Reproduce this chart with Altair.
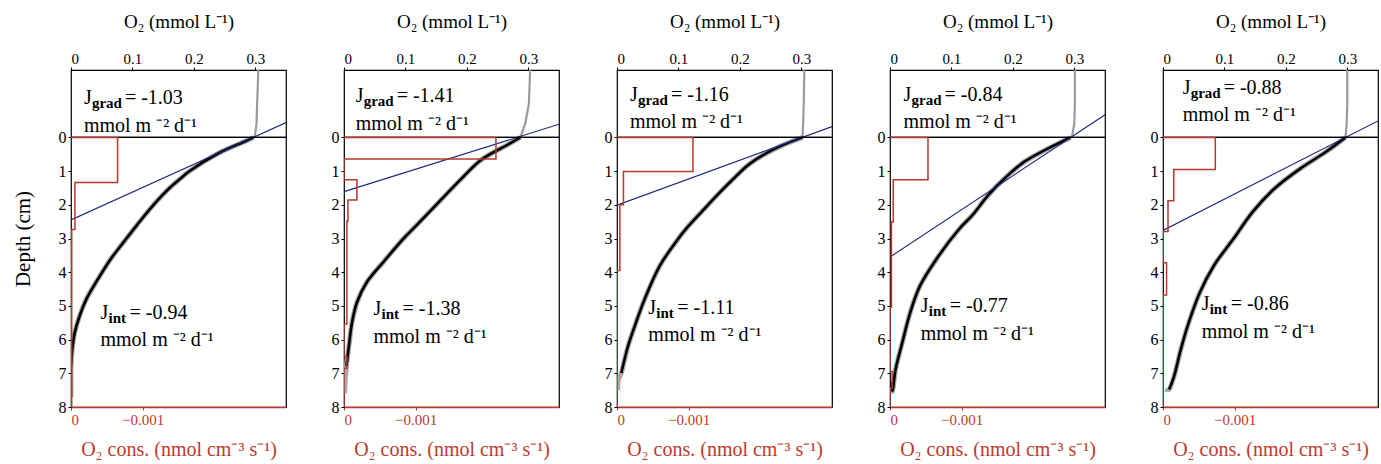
import altair as alt
import pandas as pd

# ---------------- data ----------------
jgrad_vals = ["-1.03", "-1.41", "-1.16", "-0.84", "-0.88"]
jint_vals = ["-0.94", "-1.38", "-1.11", "-0.77", "-0.86"]

# water-column O2 (gray, above the interface)
water_depth = [-2.0, -1.0, -0.4, 0.0]
water_o2 = [
    [0.305, 0.303, 0.302, 0.299],
    [0.303, 0.301, 0.295, 0.287],
    [0.305, 0.304, 0.303, 0.302],
    [0.301, 0.301, 0.300, 0.296],
    [0.300, 0.300, 0.299, 0.297],
]

# fitted sediment O2 profiles (black)
prof_depth = [
    [0, 0.12, 0.47, 1.01, 1.21, 1.51, 2.01, 2.61, 3.1, 3.6, 4.2, 4.8, 5.3, 5.8, 6.3, 6.8],
    [0, 0.22, 0.67, 1.21, 2.06, 2.61, 3.0, 3.7, 4.3, 4.9, 5.5, 6.19, 6.79],
    [0, 0.32, 0.77, 1.31, 1.81, 2.01, 2.7, 3.0, 3.8, 4.8, 5.49, 6.19, 6.99],
    [0, 0.72, 1.21, 1.71, 2.31, 2.71, 3.6, 4.4, 5.19, 6.09, 6.89, 7.53, 7.25],
    [0, 0.42, 0.92, 1.51, 2.21, 3.0, 3.8, 4.6, 5.49, 6.29, 7.09, 7.48],
]
prof_o2 = [
    [0.297, 0.283, 0.240, 0.192, 0.179, 0.160, 0.134, 0.107, 0.086, 0.065, 0.044, 0.025, 0.014, 0.006, 0.002, 0.0],
    [0.287, 0.266, 0.223, 0.192, 0.147, 0.118, 0.097, 0.064, 0.037, 0.021, 0.013, 0.008, 0.004],
    [0.302, 0.259, 0.217, 0.185, 0.158, 0.148, 0.113, 0.100, 0.070, 0.045, 0.031, 0.018, 0.007],
    [0.294, 0.219, 0.187, 0.160, 0.134, 0.113, 0.076, 0.049, 0.033, 0.020, 0.009, 0.004, 0.001],
    [0.297, 0.266, 0.224, 0.182, 0.146, 0.115, 0.083, 0.060, 0.042, 0.029, 0.018, 0.010],
]
# measured points continue below the fit (gray tail)
tail_depth = [[7.2, 7.7], [7.2, 7.6], [7.2, 7.5], [7.4, 7.5], [7.5, 7.55]]
tail_o2 = [[0.0, 0.0], [0.002, 0.001], [0.002, 0.001], [0.003, 0.003], [0.007, 0.006]]

# O2 consumption zones (red steps): zone boundaries and rates
step_bounds = [
    [0, 1.34, 2.73, 8.0],
    [0, 0.64, 1.26, 1.86, 2.49, 5.54, 6.5, 6.85, 8.0],
    [0, 1.01, 2.0, 3.95, 8.0],
    [0, 1.26, 2.51, 5.04, 6.95, 7.45, 8.0],
    [0, 0.95, 1.88, 2.79, 3.72, 4.68, 8.0],
]
step_rates = [
    [-0.00065, -0.000055, -0.00001],
    [-0.00212, 0.0, -0.00018, -0.000055, -0.00004, 0.0, -0.00004, 0.0],
    [-0.00106, -0.00009, -0.00004, 0.0],
    [-0.00053, -0.000045, -0.00002, 0.0, -0.00003, 0.0],
    [-0.00073, -0.00015, -0.00007, 0.0, -0.00005, 0.0],
]

# interfacial gradient lines (blue)
grad_o2 = [0.0, 0.35]
grad_depth = [[2.45, -0.44], [1.61, -0.39], [2.01, -0.32], [3.55, -0.67], [2.76, -0.49]]

# label anchors
jgrad_x = [0.021, 0.019, 0.021, 0.022, 0.032]
jgrad_d = [-1.17, -1.22, -1.27, -1.27, -1.47]
jint_x = [0.048, 0.048, 0.051, 0.050, 0.063]
jint_d = [5.2, 5.1, 5.05, 5.0, 4.95]

O2_TICKS = [0, 0.1, 0.2, 0.3]
DEPTH_TICKS = [0, 1, 2, 3, 4, 5, 6, 7, 8]
CONS_TICKS = [0, -0.001]

# ---------------- styling ----------------
FONT = "Times New Roman, Liberation Serif, serif"
RED = "#c0392b"
STEP_RED = "#b5392e"
BLUE = "#1a237e"
W, H = 215, 337


def make_panel(k):
    yenc = alt.Y(
        "depth:Q",
        scale=alt.Scale(domain=[-2, 8], reverse=True, nice=False, zero=False),
        axis=alt.Axis(
            values=DEPTH_TICKS,
            labelOverlap=False,
            title="Depth (cm)" if k == 0 else None,
            titleFontSize=21,
            titleFontWeight="normal",
            titlePadding=25,
            labelFontSize=16,
            labelPadding=2,
            tickSize=3,
            domain=False,
            tickColor="black",
            labelColor="black",
            titleColor="black",
            grid=False,
        ),
    )
    xo2 = alt.X(
        "o2:Q",
        scale=alt.Scale(domain=[0, 0.35], nice=False, zero=False),
        axis=alt.Axis(
            orient="top",
            values=O2_TICKS,
            format="~g",
            labelOverlap=False,
            title="O₂ (mmol L⁻¹)",
            titleFontSize=19,
            titleFontWeight="normal",
            titlePadding=20,
            labelFontSize=15,
            labelPadding=1,
            tickSize=3,
            domain=False,
            tickColor="black",
            labelColor="black",
            titleColor="black",
            grid=False,
        ),
    )

    water = pd.DataFrame({"depth": water_depth, "o2": water_o2[k], "i": range(len(water_depth))})
    meas = pd.DataFrame({
        "depth": prof_depth[k][: (len(prof_depth[k]) - (1 if k == 3 else 0))] + tail_depth[k],
        "o2": prof_o2[k][: (len(prof_o2[k]) - (1 if k == 3 else 0))] + tail_o2[k],
    })
    meas["i"] = range(len(meas))
    prof = pd.DataFrame({"depth": prof_depth[k], "o2": prof_o2[k], "i": range(len(prof_depth[k]))})
    grad = pd.DataFrame({"depth": grad_depth[k], "o2": grad_o2, "i": [0, 1]})

    rows = [{"depth": 0.0, "rate": 0.0}]
    b = step_bounds[k]
    for j, r in enumerate(step_rates[k]):
        rows.append({"depth": b[j], "rate": r})
        rows.append({"depth": b[j + 1], "rate": r})
    steps = pd.DataFrame(rows)
    steps["i"] = range(len(steps))

    lbl = pd.DataFrame({
        "o2": [jgrad_x[k], jgrad_x[k], jint_x[k], jint_x[k]],
        "depth": [jgrad_d[k], jgrad_d[k] + 0.82, jint_d[k], jint_d[k] + 0.82],
        "main": ["J", "mmol m ⁻² d⁻¹", "J", "mmol m ⁻² d⁻¹"],
    })
    eq = pd.DataFrame({
        "o2": [jgrad_x[k], jint_x[k]],
        "depth": [jgrad_d[k], jint_d[k]],
        "sub": ["grad", "int"],
        "eq": ["= " + jgrad_vals[k], "= " + jint_vals[k]],
    })

    order = alt.Order("i:Q")
    l_water = alt.Chart(water).mark_line(color="#9a9a9a", strokeWidth=2.2, clip=True).encode(x=xo2, y=yenc, order=order)
    l_meas = alt.Chart(meas).mark_line(color="#a8a8a8", strokeWidth=5, clip=True, interpolate="catmull-rom").encode(
        x=xo2, y=yenc, order=order)
    l_prof = alt.Chart(prof).mark_line(color="black", strokeWidth=2.6, clip=True, interpolate="catmull-rom").encode(
        x=xo2, y=yenc, order=order)
    l_grad = alt.Chart(grad).mark_line(color=BLUE, strokeWidth=1.1, clip=True).encode(x=xo2, y=yenc, order=order)
    l_zero = alt.Chart(grad).mark_rule(color="black", strokeWidth=1.2).encode(y=alt.datum(0))
    t_main = alt.Chart(lbl).mark_text(align="left", baseline="middle", font=FONT, fontSize=20, color="black").encode(
        x=xo2, y=yenc, text="main:N")
    t_sub = alt.Chart(eq).mark_text(align="left", baseline="middle", font=FONT, fontSize=15, fontWeight="bold",
                                    color="black", dx=8, dy=5).encode(x=xo2, y=yenc, text="sub:N")
    t_eq_g = alt.Chart(eq.iloc[[0]]).mark_text(align="left", baseline="middle", font=FONT, fontSize=20,
                                               color="black", dx=41).encode(x=xo2, y=yenc, text="eq:N")
    t_eq_i = alt.Chart(eq.iloc[[1]]).mark_text(align="left", baseline="middle", font=FONT, fontSize=20,
                                               color="black", dx=29).encode(x=xo2, y=yenc, text="eq:N")

    o2_layer = alt.layer(l_water, l_meas, l_prof, l_grad, l_zero, t_main, t_sub, t_eq_g, t_eq_i)

    xcons = alt.X(
        "rate:Q",
        scale=alt.Scale(domain=[0, -0.003], nice=False, zero=False),
        axis=alt.Axis(
            orient="bottom",
            values=CONS_TICKS,
            format="~g",
            labelOverlap=False,
            title="O₂ cons. (nmol cm⁻³ s⁻¹)",
            titleFontSize=20,
            titleFontWeight="normal",
            titlePadding=12,
            titleColor=RED,
            labelFontSize=15,
            labelColor=RED,
            labelPadding=2,
            tickSize=3,
            tickColor=RED,
            domainColor=RED,
            domainWidth=1.5,
            grid=False,
        ),
    )
    red = alt.Chart(steps).mark_line(color=STEP_RED, strokeWidth=1.5, clip=True).encode(x=xcons, y=yenc, order=order)

    return alt.layer(o2_layer, red).resolve_scale(x="independent").properties(width=W, height=H)


chart = alt.hconcat(*[make_panel(k) for k in range(5)], spacing=42).properties(
    padding={"left": 11, "top": 11, "right": 0, "bottom": 0}
).configure_view(stroke="black", strokeWidth=1.2).configure_axis(
    labelFont=FONT, titleFont=FONT
).configure_axisY(labelOverlap=False).configure_text(font=FONT)

chart.save("out.html", embed_options={"renderer": "svg", "actions": False})
